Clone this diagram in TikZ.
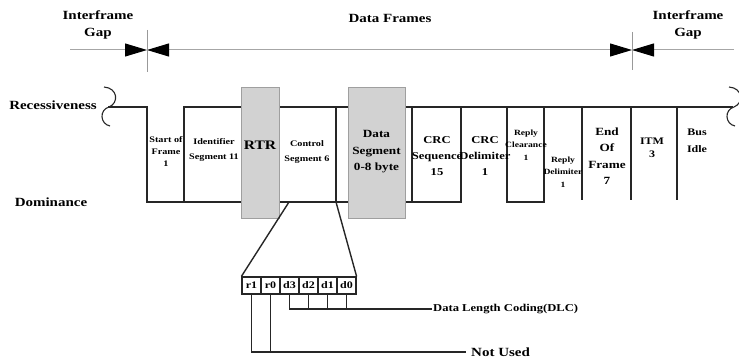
\documentclass[tikz,border=0pt]{standalone}
\usepackage{fontspec}
\setmainfont[FakeStretch=1.2]{Liberation Serif}
\usepackage{tikz}
\usetikzlibrary{arrows.meta,positioning,calc}
\tikzset{
  sigline/.style={draw=black!85,line width=1.4pt},
  brkline/.style={draw=black!85,line width=1.1pt},
  ruler/.style={draw=gray!70,line width=1pt,>={Triangle[length=22pt,width=13pt,color=black]}},
  rtick/.style={draw=gray!80,line width=0.8pt},
  grayseg/.style={draw=gray!75,fill=gray!35,line width=0.8pt,inner sep=0pt},
  leader/.style={draw=black!85,line width=1.2pt},
  hlab/.style={align=center,inner sep=0pt,font=\fontsize{12.5}{17}\selectfont\bfseries},
  biglab/.style={align=center,inner sep=0pt,font=\fontsize{11}{16.5}\selectfont\bfseries},
  midlab/.style={align=center,inner sep=0pt,font=\fontsize{10}{15}\selectfont\bfseries},
  smalllab/.style={align=center,inner sep=0pt,font=\fontsize{8.5}{12}\selectfont\bfseries},
  tinylab/.style={align=center,inner sep=0pt,font=\fontsize{8}{12.5}\selectfont\bfseries},
  bitcell/.style={draw=black!85,line width=1.2pt,minimum width=19pt,minimum height=17pt,inner sep=0pt,font=\fontsize{10}{10}\selectfont\bfseries}
}

\begin{document}
\begin{tikzpicture}[x=1pt,y=-1pt,font=\bfseries]
  \useasboundingbox (0,0) rectangle (739,361);
  \coordinate (gl) at (70,50);
  \coordinate (sf) at (147,50);
  \coordinate (ef) at (632,50);
  \coordinate (gr) at (734,50);
  \draw[ruler,->] (gl) -- (sf);
  \draw[ruler,<->] (sf) -- (ef);
  \draw[ruler,->] (gr) -- (ef);
  \draw[rtick] (147,30) -- (147,72);
  \draw[rtick] (632,32) -- (632,70);
  \node[hlab] (gapl) at (98,25) {Interframe\\Gap};
  \node[hlab] (frames) at (390,18) {Data Frames};
  \node[hlab] (gapr) at (688,25) {Interframe\\Gap};
  \node[hlab] (rec) at (53,105) {Recessiveness};
  \node[hlab] (dom) at (51,202) {Dominance};
  % bus level
  \draw[sigline] (108,107) -- (147,107) -- (147,202) -- (461,202) -- (461,107);
  \draw[sigline] (184,202) -- (184,107) -- (733,107);
  \draw[sigline] (336,107) -- (336,202);
  \draw[sigline] (412,107) -- (412,202);
  \draw[sigline] (507,107) -- (507,202) -- (544,202) -- (544,107);
  \foreach \x in {582,631,677} \draw[sigline] (\x,107) -- (\x,200);
  \draw[brkline] (104,87) .. controls (118,88) and (119,103) .. (109,107) .. controls (99,110) and (100,124) .. (110,126);
  \draw[brkline] (729,87) .. controls (743,88) and (744,103) .. (734,107) .. controls (724,110) and (725,124) .. (735,126);
  \node[grayseg,minimum width=38pt,minimum height=131pt] (rtrbox) at (260,152.5) {};
  \node[grayseg,minimum width=57pt,minimum height=131pt] (databox) at (376.5,152.5) {};
  % field labels
  \node[smalllab] (sof) at (166,152) {Start of\\Frame\\1};
  \node[smalllab,font=\fontsize{8.5}{15}\selectfont\bfseries] (ident) at (214,150) {Identifier\\Segment 11};
  \node[hlab,font=\fontsize{13}{15}\selectfont\bfseries] (rtr) at (260,145) {RTR};
  \node[smalllab,font=\fontsize{8.5}{15}\selectfont\bfseries] (ctrl) at (307,152) {Control\\Segment 6};
  \node[biglab] (data) at (376.5,152) {Data\\Segment\\0-8 byte};
  \node[midlab,font=\fontsize{10.5}{16}\selectfont\bfseries] (crcseq) at (437,156) {CRC\\Sequence\\15};
  \node[midlab,font=\fontsize{10.5}{16}\selectfont\bfseries] (crcdel) at (485,156) {CRC\\Delimiter\\1};
  \node[tinylab] (ackslot) at (526,145) {Reply\\Clearance\\1};
  \node[tinylab] (ackdel) at (563,172) {Reply\\Delimiter\\1};
  \node[biglab] (eof) at (607,156) {End\\Of\\Frame\\7};
  \node[midlab,font=\fontsize{10}{13}\selectfont\bfseries] (itm) at (652,148) {ITM\\3};
  \node[midlab,font=\fontsize{10}{17}\selectfont\bfseries] (idle) at (697,141) {Bus\\Idle};
  % control field bits
  \foreach \b [count=\i from 0] in {r1,r0,d3,d2,d1,d0}
    \node[bitcell] (\b) at ({251.5+19*\i},285.5) {\b};
  \coordinate (zl) at (289,202);
  \coordinate (zr) at (336,202);
  \draw[sigline] (zl) -- (r1.north west);
  \draw[sigline] (zr) -- (d0.north east);
  \node[midlab,font=\fontsize{10.5}{12}\selectfont\bfseries,anchor=west,inner xsep=1pt] (dlc) at (432,309) {Data Length Coding(DLC)};
  \node[hlab,anchor=west,inner xsep=5pt] (nu) at (466,352) {Not Used};
  \draw[leader] (d3.south) |- (dlc.west);
  \foreach \b in {d2,d1,d0} \draw[leader] (\b.south) -- (\b.south |- dlc.west);
  \draw[leader] (r1.south) |- (nu.west);
  \draw[leader] (r0.south) -- (r0.south |- nu.west);
\end{tikzpicture}
\end{document}
